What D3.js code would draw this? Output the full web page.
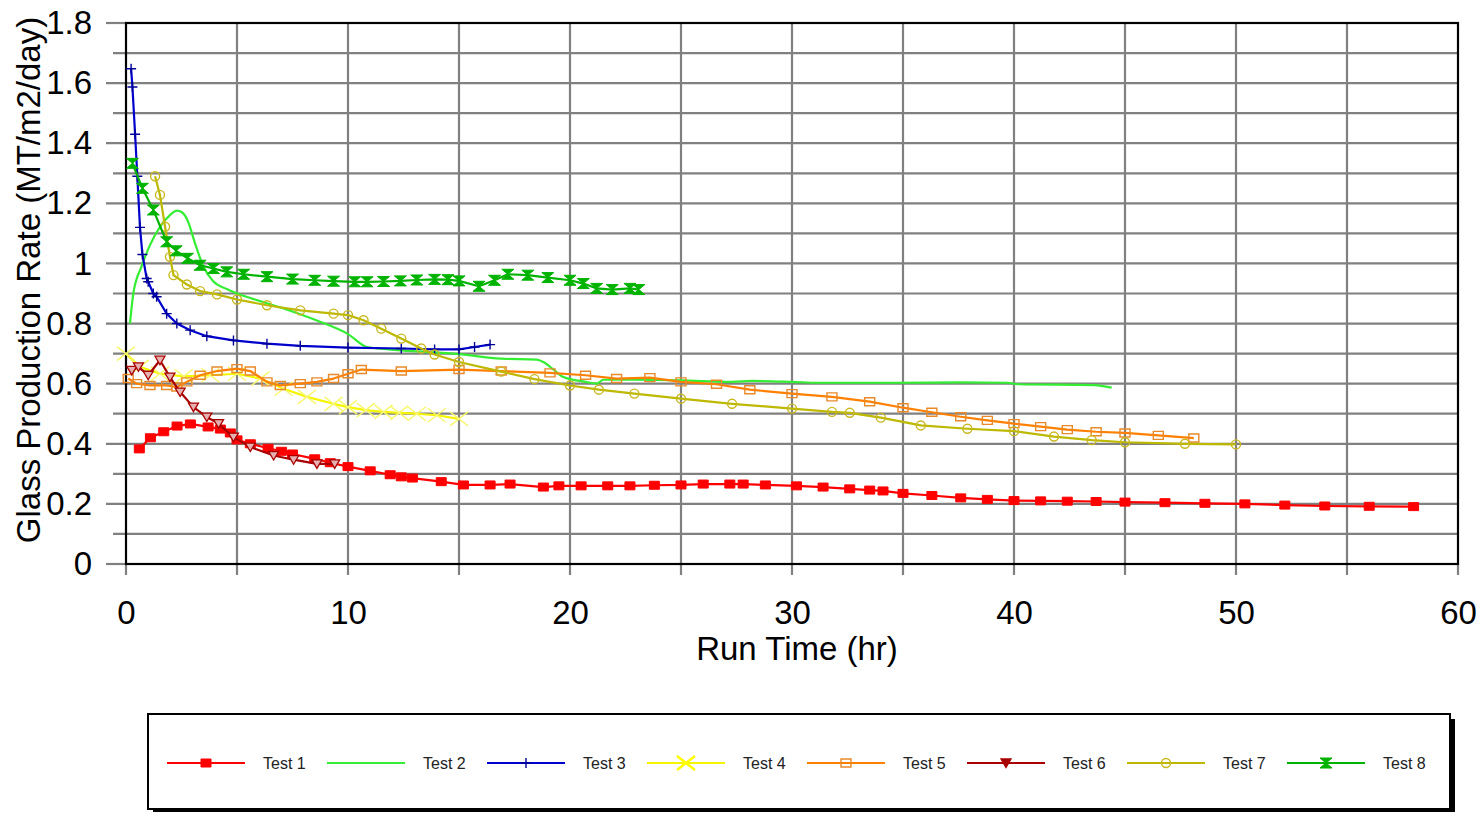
<!DOCTYPE html>
<html lang="en">
<head>
<meta charset="UTF-8">
<title>Glass Production Rate</title>
<style>
  body { margin: 0; background: #fff; }
  text { font-family: "Liberation Sans", Arial, sans-serif; }
</style>
</head>
<body>
<script src="https://d3js.org/d3.v7.min.js"></script>
<script>
// ---- data ----
var seriesNames = ["Test 1", "Test 2", "Test 3", "Test 4", "Test 5", "Test 6", "Test 7", "Test 8"];

var test1Time = [0.6, 1.1, 1.7, 2.3, 2.9, 3.7, 4.25, 4.7, 5.0, 5.6, 6.4, 7.0, 7.5, 8.5, 9.2, 10.0, 11.0, 11.9, 12.4, 12.9, 14.2, 15.2, 16.4, 17.3, 18.8, 19.5, 20.5, 21.7, 22.7, 23.8, 25.0, 26.0, 27.2, 27.8, 28.8, 30.2, 31.4, 32.6, 33.5, 34.1, 35.0, 36.3, 37.6, 38.8, 40.0, 41.2, 42.4, 43.7, 45.0, 46.8, 48.6, 50.4, 52.2, 54.0, 56.0, 58.0];
var test1Rate = [0.383, 0.42, 0.44, 0.459, 0.466, 0.456, 0.449, 0.436, 0.413, 0.40, 0.385, 0.375, 0.366, 0.35, 0.337, 0.324, 0.31, 0.297, 0.29, 0.286, 0.274, 0.263, 0.263, 0.266, 0.256, 0.26, 0.26, 0.26, 0.26, 0.262, 0.263, 0.266, 0.266, 0.266, 0.263, 0.26, 0.256, 0.25, 0.246, 0.243, 0.235, 0.228, 0.22, 0.215, 0.211, 0.21, 0.209, 0.208, 0.206, 0.204, 0.202, 0.2, 0.196, 0.193, 0.192, 0.191];

var test2Time = [0.18, 0.33, 0.7, 1.08, 1.53, 1.98, 2.29, 2.5, 2.77, 3.11, 3.49, 3.94, 4.54, 5.0, 5.6, 7.1, 8.6, 10.0, 10.86, 12.4, 15.0, 16.9, 18.5, 18.8, 19.3, 19.7, 20.7, 21.2, 21.5, 22.9, 25.0, 27.3, 28.2, 30.0, 31.2, 34.8, 37.5, 39.7, 40.2, 43.6, 44.4];
var test2Rate = [0.8, 0.9, 0.99, 1.061, 1.122, 1.161, 1.176, 1.171, 1.144, 1.067, 0.989, 0.94, 0.915, 0.9, 0.885, 0.85, 0.81, 0.765, 0.722, 0.711, 0.698, 0.683, 0.68, 0.672, 0.644, 0.622, 0.606, 0.6, 0.613, 0.613, 0.611, 0.606, 0.609, 0.606, 0.603, 0.603, 0.604, 0.603, 0.598, 0.595, 0.587];

var test3Time = [0.23, 0.29, 0.41, 0.51, 0.63, 0.74, 0.93, 1.0, 1.23, 1.38, 1.83, 2.29, 2.89, 3.64, 4.84, 6.35, 7.85, 10.0, 12.4, 13.9, 15.0, 15.7, 16.4];
var test3Rate = [1.648, 1.587, 1.43, 1.29, 1.12, 1.03, 0.95, 0.939, 0.9, 0.889, 0.833, 0.8, 0.778, 0.758, 0.744, 0.733, 0.726, 0.72, 0.717, 0.714, 0.714, 0.722, 0.73];

var test4Time = [0.0, 0.63, 1.53, 2.6, 3.8, 5.0, 6.05, 7.1, 8.15, 9.35, 10.0, 10.8, 11.6, 12.3, 13.1, 14.0, 15.0];
var test4Rate = [0.7, 0.656, 0.633, 0.624, 0.628, 0.633, 0.617, 0.583, 0.556, 0.533, 0.522, 0.512, 0.506, 0.503, 0.5, 0.495, 0.483];

var test5Time = [0.1, 0.48, 1.08, 1.83, 2.29, 2.74, 3.34, 4.1, 5.0, 5.6, 6.35, 6.95, 7.85, 8.6, 9.35, 10.0, 10.6, 12.4, 15.0, 16.9, 19.1, 20.7, 22.1, 23.6, 25.0, 26.6, 28.1, 30.0, 31.8, 33.5, 35.0, 36.3, 37.6, 38.8, 40.0, 41.2, 42.4, 43.7, 45.0, 46.5, 48.1];
var test5Rate = [0.617, 0.6, 0.594, 0.594, 0.589, 0.606, 0.628, 0.642, 0.65, 0.642, 0.606, 0.594, 0.6, 0.606, 0.617, 0.633, 0.647, 0.642, 0.647, 0.642, 0.636, 0.628, 0.617, 0.62, 0.606, 0.598, 0.58, 0.567, 0.556, 0.54, 0.52, 0.505, 0.49, 0.478, 0.467, 0.457, 0.447, 0.44, 0.436, 0.428, 0.419];

var test6Time = [0.26, 0.56, 1.0, 1.53, 1.98, 2.44, 3.04, 3.64, 4.17, 4.84, 5.6, 6.65, 7.55, 8.6, 9.4];
var test6Rate = [0.644, 0.656, 0.628, 0.678, 0.622, 0.572, 0.522, 0.489, 0.467, 0.422, 0.389, 0.361, 0.347, 0.333, 0.333];

var test7Time = [1.31, 1.53, 1.76, 1.98, 2.14, 2.74, 3.34, 4.1, 5.0, 6.35, 7.85, 9.35, 10.0, 10.7, 11.5, 12.4, 13.3, 13.9, 15.0, 16.9, 18.4, 20.0, 21.3, 22.9, 25.0, 27.3, 30.0, 31.8, 32.6, 34.0, 35.8, 37.9, 40.0, 41.8, 43.5, 45.0, 47.7, 50.0];
var test7Rate = [1.29, 1.228, 1.122, 1.022, 0.961, 0.93, 0.908, 0.897, 0.88, 0.861, 0.844, 0.833, 0.828, 0.811, 0.783, 0.75, 0.717, 0.697, 0.672, 0.64, 0.615, 0.594, 0.58, 0.567, 0.55, 0.533, 0.517, 0.506, 0.503, 0.487, 0.461, 0.45, 0.442, 0.424, 0.412, 0.405, 0.4, 0.398];

var test8Time = [0.29, 0.74, 1.23, 1.83, 2.26, 2.77, 3.34, 3.94, 4.54, 5.3, 6.35, 7.5, 8.5, 9.35, 10.3, 10.86, 11.6, 12.36, 13.1, 13.9, 14.5, 15.0, 15.9, 16.6, 17.2, 18.1, 19.0, 20.0, 20.6, 21.2, 21.9, 22.7, 23.1];
var test8Rate = [1.333, 1.25, 1.178, 1.072, 1.042, 1.017, 0.994, 0.983, 0.972, 0.964, 0.956, 0.948, 0.944, 0.941, 0.939, 0.939, 0.94, 0.942, 0.945, 0.947, 0.946, 0.942, 0.924, 0.944, 0.964, 0.961, 0.953, 0.944, 0.933, 0.917, 0.913, 0.917, 0.913];

var xTicks = [0, 10, 20, 30, 40, 50, 60];
var xTickLabels = ["0", "10", "20", "30", "40", "50", "60"];
var xGrid = [5, 10, 15, 20, 25, 30, 35, 40, 45, 50, 55];
var yTicks = [0, 0.2, 0.4, 0.6, 0.8, 1.0, 1.2, 1.4, 1.6, 1.8];
var yTickLabels = ["0", "0.2", "0.4", "0.6", "0.8", "1", "1.2", "1.4", "1.6", "1.8"];
var yGrid = [0.1, 0.2, 0.3, 0.4, 0.5, 0.6, 0.7, 0.8, 0.9, 1.0, 1.1, 1.2, 1.3, 1.4, 1.5, 1.6, 1.7];

// ---- layout ----
var width = 1477, height = 813;
var plotLeft = 126, plotRight = 1458, plotTop = 23, plotBottom = 564;

var svg = d3.select("body").append("svg")
    .attr("width", width)
    .attr("height", height);

var x = d3.scaleLinear().domain([0, 60]).range([plotLeft, plotRight]);
var y = d3.scaleLinear().domain([0, 1.8]).range([plotBottom, plotTop]);

// grid lines (extend past the axes as tick marks)
var grid = svg.append("g");
grid.selectAll(".hgrid").data(yGrid).enter().append("line")
    .attr("x1", function (d, i) { return i % 2 === 1 ? plotLeft - 20 : plotLeft - 13; })
    .attr("x2", plotRight)
    .attr("y1", function (d) { return y(d); })
    .attr("y2", function (d) { return y(d); })
    .style("stroke", "#808080").style("stroke-width", 2.2);
grid.selectAll(".hend").data([0, 1.8]).enter().append("line")
    .attr("x1", plotLeft - 20).attr("x2", plotLeft)
    .attr("y1", function (d) { return y(d); })
    .attr("y2", function (d) { return y(d); })
    .style("stroke", "#808080").style("stroke-width", 2.2);
grid.selectAll(".vgrid").data(xGrid).enter().append("line")
    .attr("x1", function (d) { return x(d); })
    .attr("x2", function (d) { return x(d); })
    .attr("y1", plotTop)
    .attr("y2", plotBottom + 11)
    .style("stroke", "#808080").style("stroke-width", 2.2);
grid.selectAll(".vtick").data([0, 60]).enter().append("line")
    .attr("x1", function (d) { return x(d); })
    .attr("x2", function (d) { return x(d); })
    .attr("y1", plotBottom)
    .attr("y2", plotBottom + 11)
    .style("stroke", "#808080").style("stroke-width", 2.2);

// plot frame
svg.append("rect")
    .attr("x", plotLeft).attr("y", plotTop)
    .attr("width", plotRight - plotLeft).attr("height", plotBottom - plotTop)
    .style("fill", "none").style("stroke", "#000").style("stroke-width", 2.2);

// axis labels via d3 axes
var yAxis = d3.axisLeft(y).tickValues(yTicks)
    .tickFormat(function (d, i) { return yTickLabels[i]; })
    .tickSize(0).tickPadding(34);
var gy = svg.append("g").attr("transform", "translate(" + plotLeft + ",0)").call(yAxis);
gy.select(".domain").remove();
gy.selectAll("text").style("font-size", "33px").style("fill", "#000")
    .style("font-family", "'Liberation Sans', Arial, sans-serif");

var xAxis = d3.axisBottom(x).tickValues(xTicks)
    .tickFormat(function (d, i) { return xTickLabels[i]; })
    .tickSize(0).tickPadding(37);
var gx = svg.append("g").attr("transform", "translate(0," + plotBottom + ")").call(xAxis);
gx.select(".domain").remove();
gx.selectAll("text").style("font-size", "33px").style("fill", "#000")
    .style("font-family", "'Liberation Sans', Arial, sans-serif");

svg.append("text")
    .attr("x", (plotLeft + plotRight) / 2 + 5).attr("y", 660)
    .attr("text-anchor", "middle")
    .style("font-size", "33px")
    .text("Run Time (hr)");

svg.append("text")
    .attr("transform", "translate(40,280) rotate(-90)")
    .attr("text-anchor", "middle")
    .style("font-size", "33px")
    .text("Glass Production Rate (MT/m2/day)");

// ---- series ----
var series = [
    {time: test1Time, rate: test1Rate, color: "#ff0000", mcolor: "#ff0000", marker: "square"},
    {time: test2Time, rate: test2Rate, color: "#33ee33", mcolor: "#33ee33", marker: "none", smooth: true},
    {time: test3Time, rate: test3Rate, color: "#0000cc", mcolor: "#000099", marker: "plus"},
    {time: test4Time, rate: test4Rate, color: "#f5f500", mcolor: "#f8f870", marker: "cross"},
    {time: test5Time, rate: test5Rate, color: "#ff8000", mcolor: "#e8892a", marker: "openSquare"},
    {time: test6Time, rate: test6Rate, color: "#a80000", mcolor: "#a80000", marker: "triangle"},
    {time: test7Time, rate: test7Rate, color: "#bdb800", mcolor: "#c8b820", marker: "circle"},
    {time: test8Time, rate: test8Rate, color: "#00b300", mcolor: "#00b300", marker: "hourglass"}
];

var markerPaths = {
    square: "M-5,-4H5V4H-5Z",
    openSquare: "M-5,-4H5V4H-5Z",
    plus: "M-5,0H5M0,-5V5",
    cross: "M-9,-7L9,7M-9,7L9,-7",
    triangle: "M-5,-4H5L0,4.5Z",
    circle: "M4.5,0A4.5,4.5 0 1,1 -4.5,0A4.5,4.5 0 1,1 4.5,0Z",
    hourglass: "M-6,-5H6L-6,5H6Z"
};

function styleMarker(sel, s, legend) {
    var m = s.marker;
    sel.attr("d", markerPaths[m]);
    if (m === "square" || m === "hourglass") {
        sel.style("fill", s.mcolor).style("stroke", s.mcolor).style("stroke-width", 1);
    } else if (m === "triangle") {
        sel.style("fill", legend ? s.mcolor : "#e6b0b0").style("stroke", s.mcolor).style("stroke-width", 1.3);
    } else if (m === "cross") {
        sel.style("fill", "none").style("stroke", legend ? "#ffff00" : s.mcolor).style("stroke-width", legend ? 2.5 : 1.5);
    } else {
        sel.style("fill", "none").style("stroke", s.mcolor).style("stroke-width", 1.4);
    }
}

var plot = svg.append("g");
series.forEach(function (s) {
    var pts = s.time.map(function (t, i) { return [t, s.rate[i]]; });
    var line = d3.line()
        .x(function (d) { return x(d[0]); })
        .y(function (d) { return y(d[1]); })
        .curve(s.smooth ? d3.curveMonotoneX : d3.curveLinear);
    plot.append("path").datum(pts)
        .attr("d", line)
        .style("fill", "none")
        .style("stroke", s.color)
        .style("stroke-width", 2.2)
        .style("stroke-linejoin", "round");
    if (s.marker !== "none") {
        plot.append("g").selectAll("path").data(pts).enter().append("path")
            .attr("transform", function (d) { return "translate(" + x(d[0]) + "," + y(d[1]) + ")"; })
            .call(styleMarker, s, false);
    }
});

// ---- legend ----
var lg = svg.append("g");
lg.append("rect").attr("x", 153).attr("y", 719).attr("width", 1302).attr("height", 93).style("fill", "#000");
lg.append("rect").attr("x", 148).attr("y", 714).attr("width", 1302).attr("height", 95)
    .style("fill", "#fff").style("stroke", "#000").style("stroke-width", 2);

series.forEach(function (s, i) {
    var lx = 167 + i * 160, ly = 763;
    lg.append("line").attr("x1", lx).attr("x2", lx + 78).attr("y1", ly).attr("y2", ly)
        .style("stroke", s.color).style("stroke-width", 2);
    if (s.marker !== "none") {
        lg.append("path").attr("transform", "translate(" + (lx + 39) + "," + ly + ")")
            .call(styleMarker, s, true);
    }
    lg.append("text").attr("x", lx + 96).attr("y", ly).attr("dy", "0.35em")
        .style("font-size", "16px").style("fill", "#222")
        .text(seriesNames[i]);
});
</script>
</body>
</html>
